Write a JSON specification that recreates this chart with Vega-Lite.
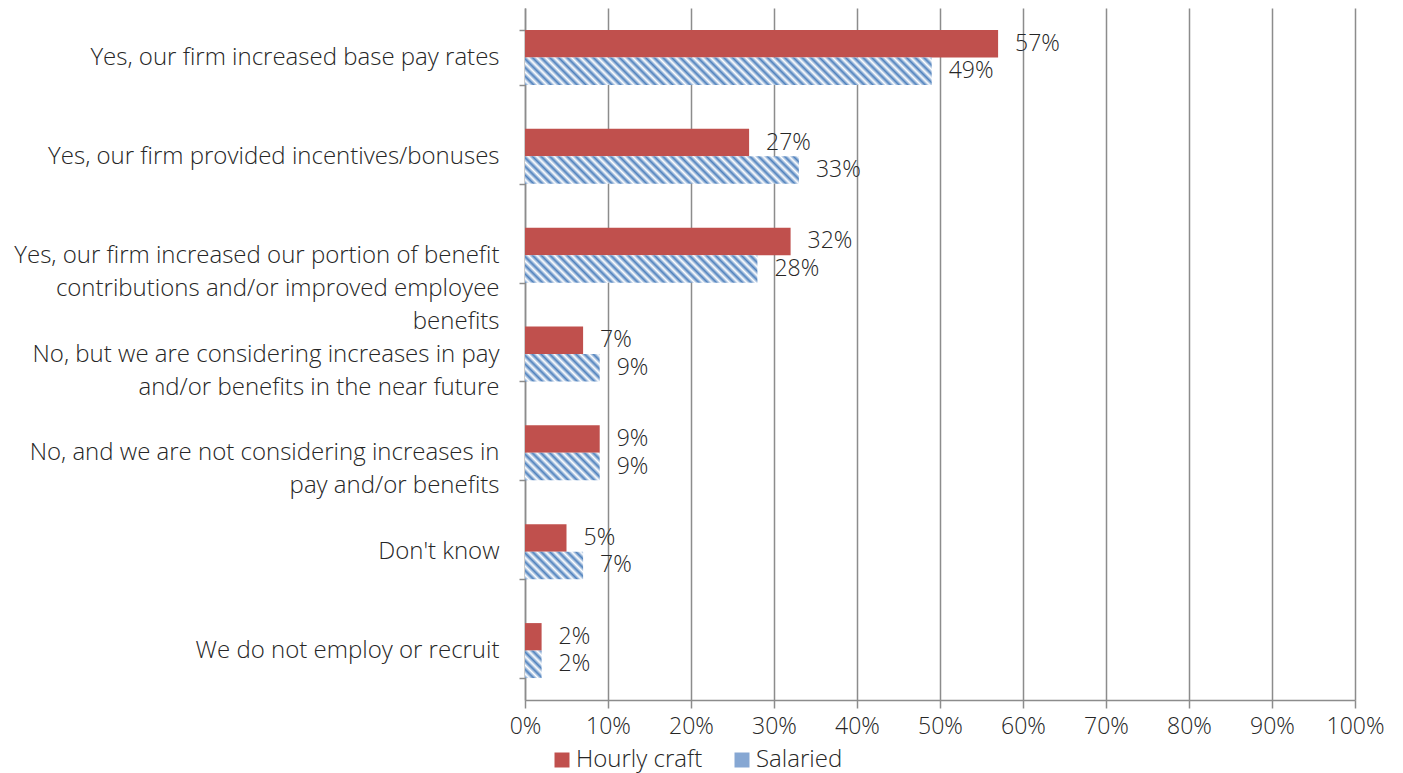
{
  "$schema": "https://vega.github.io/schema/vega-lite/v6.json",
  "width": 830,
  "height": 692,
  "autosize": {"type": "none"},
  "padding": {"left": 525, "top": 8, "right": 48, "bottom": 73},
  "background": "white",
  "config": {"view": {"stroke": null}, "font": "Open Sans"},
  "data": {"values": [
    {"q": "Yes, our firm increased base pay rates", "series": "Hourly craft", "value": 0.57},
    {"q": "Yes, our firm provided incentives/bonuses", "series": "Hourly craft", "value": 0.27},
    {"q": "Yes, our firm increased our portion of benefit|contributions and/or improved employee|benefits", "series": "Hourly craft", "value": 0.32},
    {"q": "No, but we are considering increases in pay|and/or benefits in the near future", "series": "Hourly craft", "value": 0.07},
    {"q": "No, and we are not considering increases in|pay and/or benefits", "series": "Hourly craft", "value": 0.09},
    {"q": "Don't know", "series": "Hourly craft", "value": 0.05},
    {"q": "We do not employ or recruit", "series": "Hourly craft", "value": 0.02},
    {"q": "Yes, our firm increased base pay rates", "series": "Salaried", "value": 0.49},
    {"q": "Yes, our firm provided incentives/bonuses", "series": "Salaried", "value": 0.33},
    {"q": "Yes, our firm increased our portion of benefit|contributions and/or improved employee|benefits", "series": "Salaried", "value": 0.28},
    {"q": "No, but we are considering increases in pay|and/or benefits in the near future", "series": "Salaried", "value": 0.09},
    {"q": "No, and we are not considering increases in|pay and/or benefits", "series": "Salaried", "value": 0.09},
    {"q": "Don't know", "series": "Salaried", "value": 0.07},
    {"q": "We do not employ or recruit", "series": "Salaried", "value": 0.02}
  ]},
  "encoding": {
    "y": {
      "field": "q", "type": "nominal", "sort": null,
      "scale": {"paddingInner": 0.444, "paddingOuter": 0.222},
      "axis": {
        "title": null, "tickBand": "extent", "tickSize": 6, "tickColor": "#8c8c8c", "tickWidth": 1.5,
        "domainColor": "#8c8c8c", "domainWidth": 1.5, "labelFontSize": 24, "labelFontWeight": 300, "labelColor": "#262626",
        "labelPadding": 20, "labelLineHeight": 33, "labelLimit": 600,
        "labelExpr": "split(datum.label, '|')"
      }
    },
    "yOffset": {"field": "series", "type": "nominal", "sort": ["Hourly craft", "Salaried"], "scale": {"paddingInner": 0, "paddingOuter": 0}},
    "x": {
      "field": "value", "type": "quantitative", "scale": {"domain": [0, 1]},
      "axis": {
        "title": null, "values": [0, 0.1, 0.2, 0.3, 0.4, 0.5, 0.6, 0.7, 0.8, 0.9, 1], "format": ".0%",
        "grid": true, "gridColor": "#8c8c8c", "gridWidth": 1.5, "domainColor": "#8c8c8c", "domainWidth": 1.5,
        "tickColor": "#8c8c8c", "tickWidth": 1.5, "tickSize": 8, "labelFontSize": 23, "labelFontWeight": 300, "labelColor": "#262626",
        "labelPadding": 7, "labelFlush": false
      }
    }
  },
  "layer": [
    {
      "mark": {"type": "bar"},
      "encoding": {
        "fill": {
          "field": "series", "type": "nominal",
          "scale": {"domain": ["Hourly craft", "Salaried"], "range": ["#C0504D", "#86A7D3"]},
          "legend": {
            "title": null, "orient": "none", "legendX": 25, "legendY": 740, "direction": "horizontal",
            "symbolType": "square", "symbolSize": 225, "symbolStrokeWidth": 0, "labelFontSize": 24, "labelFontWeight": 300,
            "labelColor": "#262626", "columnPadding": 27, "labelOffset": 2
          },
          "condition": [
            {"test": "datum.series === 'Salaried' && datum.value === 0.49", "value": {"gradient": "linear", "x1": 0, "y1": 1, "x2": 1.0647, "y2": 0.92806, "stops": [
              {"offset":0,"color":"#4F81BD"},{"offset":0.01,"color":"#FFFFFF"},{"offset":0.02,"color":"#4F81BD"},{"offset":0.03,"color":"#FFFFFF"},{"offset":0.04,"color":"#4F81BD"},{"offset":0.05,"color":"#FFFFFF"},{"offset":0.06,"color":"#4F81BD"},{"offset":0.07,"color":"#FFFFFF"},{"offset":0.08,"color":"#4F81BD"},{"offset":0.09,"color":"#FFFFFF"},
              {"offset":0.1,"color":"#4F81BD"},{"offset":0.11,"color":"#FFFFFF"},{"offset":0.12,"color":"#4F81BD"},{"offset":0.13,"color":"#FFFFFF"},{"offset":0.14,"color":"#4F81BD"},{"offset":0.15,"color":"#FFFFFF"},{"offset":0.16,"color":"#4F81BD"},{"offset":0.17,"color":"#FFFFFF"},{"offset":0.18,"color":"#4F81BD"},{"offset":0.19,"color":"#FFFFFF"},
              {"offset":0.2,"color":"#4F81BD"},{"offset":0.21,"color":"#FFFFFF"},{"offset":0.22,"color":"#4F81BD"},{"offset":0.23,"color":"#FFFFFF"},{"offset":0.24,"color":"#4F81BD"},{"offset":0.25,"color":"#FFFFFF"},{"offset":0.26,"color":"#4F81BD"},{"offset":0.27,"color":"#FFFFFF"},{"offset":0.28,"color":"#4F81BD"},{"offset":0.29,"color":"#FFFFFF"},
              {"offset":0.3,"color":"#4F81BD"},{"offset":0.31,"color":"#FFFFFF"},{"offset":0.32,"color":"#4F81BD"},{"offset":0.33,"color":"#FFFFFF"},{"offset":0.34,"color":"#4F81BD"},{"offset":0.35,"color":"#FFFFFF"},{"offset":0.36,"color":"#4F81BD"},{"offset":0.37,"color":"#FFFFFF"},{"offset":0.38,"color":"#4F81BD"},{"offset":0.39,"color":"#FFFFFF"},
              {"offset":0.4,"color":"#4F81BD"},{"offset":0.41,"color":"#FFFFFF"},{"offset":0.42,"color":"#4F81BD"},{"offset":0.43,"color":"#FFFFFF"},{"offset":0.44,"color":"#4F81BD"},{"offset":0.45,"color":"#FFFFFF"},{"offset":0.46,"color":"#4F81BD"},{"offset":0.47,"color":"#FFFFFF"},{"offset":0.48,"color":"#4F81BD"},{"offset":0.49,"color":"#FFFFFF"},
              {"offset":0.5,"color":"#4F81BD"},{"offset":0.51,"color":"#FFFFFF"},{"offset":0.52,"color":"#4F81BD"},{"offset":0.53,"color":"#FFFFFF"},{"offset":0.54,"color":"#4F81BD"},{"offset":0.55,"color":"#FFFFFF"},{"offset":0.56,"color":"#4F81BD"},{"offset":0.57,"color":"#FFFFFF"},{"offset":0.58,"color":"#4F81BD"},{"offset":0.59,"color":"#FFFFFF"},
              {"offset":0.6,"color":"#4F81BD"},{"offset":0.61,"color":"#FFFFFF"},{"offset":0.62,"color":"#4F81BD"},{"offset":0.63,"color":"#FFFFFF"},{"offset":0.64,"color":"#4F81BD"},{"offset":0.65,"color":"#FFFFFF"},{"offset":0.66,"color":"#4F81BD"},{"offset":0.67,"color":"#FFFFFF"},{"offset":0.68,"color":"#4F81BD"},{"offset":0.69,"color":"#FFFFFF"},
              {"offset":0.7,"color":"#4F81BD"},{"offset":0.71,"color":"#FFFFFF"},{"offset":0.72,"color":"#4F81BD"},{"offset":0.73,"color":"#FFFFFF"},{"offset":0.74,"color":"#4F81BD"},{"offset":0.75,"color":"#FFFFFF"},{"offset":0.76,"color":"#4F81BD"},{"offset":0.77,"color":"#FFFFFF"},{"offset":0.78,"color":"#4F81BD"},{"offset":0.79,"color":"#FFFFFF"},
              {"offset":0.8,"color":"#4F81BD"},{"offset":0.81,"color":"#FFFFFF"},{"offset":0.82,"color":"#4F81BD"},{"offset":0.83,"color":"#FFFFFF"},{"offset":0.84,"color":"#4F81BD"},{"offset":0.85,"color":"#FFFFFF"},{"offset":0.86,"color":"#4F81BD"},{"offset":0.87,"color":"#FFFFFF"},{"offset":0.88,"color":"#4F81BD"},{"offset":0.89,"color":"#FFFFFF"},
              {"offset":0.9,"color":"#4F81BD"},{"offset":0.91,"color":"#FFFFFF"},{"offset":0.92,"color":"#4F81BD"},{"offset":0.93,"color":"#FFFFFF"},{"offset":0.94,"color":"#4F81BD"},{"offset":0.95,"color":"#FFFFFF"},{"offset":0.96,"color":"#4F81BD"},{"offset":0.97,"color":"#FFFFFF"},{"offset":0.98,"color":"#4F81BD"},{"offset":0.99,"color":"#FFFFFF"},
              {"offset":1,"color":"#4F81BD"}
            ]}},
            {"test": "datum.series === 'Salaried' && datum.value === 0.33", "value": {"gradient": "linear", "x1": 0, "y1": 1, "x2": 1.5724, "y2": 0.84225, "stops": [
              {"offset":0,"color":"#4F81BD"},{"offset":0.01,"color":"#FFFFFF"},{"offset":0.02,"color":"#4F81BD"},{"offset":0.03,"color":"#FFFFFF"},{"offset":0.04,"color":"#4F81BD"},{"offset":0.05,"color":"#FFFFFF"},{"offset":0.06,"color":"#4F81BD"},{"offset":0.07,"color":"#FFFFFF"},{"offset":0.08,"color":"#4F81BD"},{"offset":0.09,"color":"#FFFFFF"},
              {"offset":0.1,"color":"#4F81BD"},{"offset":0.11,"color":"#FFFFFF"},{"offset":0.12,"color":"#4F81BD"},{"offset":0.13,"color":"#FFFFFF"},{"offset":0.14,"color":"#4F81BD"},{"offset":0.15,"color":"#FFFFFF"},{"offset":0.16,"color":"#4F81BD"},{"offset":0.17,"color":"#FFFFFF"},{"offset":0.18,"color":"#4F81BD"},{"offset":0.19,"color":"#FFFFFF"},
              {"offset":0.2,"color":"#4F81BD"},{"offset":0.21,"color":"#FFFFFF"},{"offset":0.22,"color":"#4F81BD"},{"offset":0.23,"color":"#FFFFFF"},{"offset":0.24,"color":"#4F81BD"},{"offset":0.25,"color":"#FFFFFF"},{"offset":0.26,"color":"#4F81BD"},{"offset":0.27,"color":"#FFFFFF"},{"offset":0.28,"color":"#4F81BD"},{"offset":0.29,"color":"#FFFFFF"},
              {"offset":0.3,"color":"#4F81BD"},{"offset":0.31,"color":"#FFFFFF"},{"offset":0.32,"color":"#4F81BD"},{"offset":0.33,"color":"#FFFFFF"},{"offset":0.34,"color":"#4F81BD"},{"offset":0.35,"color":"#FFFFFF"},{"offset":0.36,"color":"#4F81BD"},{"offset":0.37,"color":"#FFFFFF"},{"offset":0.38,"color":"#4F81BD"},{"offset":0.39,"color":"#FFFFFF"},
              {"offset":0.4,"color":"#4F81BD"},{"offset":0.41,"color":"#FFFFFF"},{"offset":0.42,"color":"#4F81BD"},{"offset":0.43,"color":"#FFFFFF"},{"offset":0.44,"color":"#4F81BD"},{"offset":0.45,"color":"#FFFFFF"},{"offset":0.46,"color":"#4F81BD"},{"offset":0.47,"color":"#FFFFFF"},{"offset":0.48,"color":"#4F81BD"},{"offset":0.49,"color":"#FFFFFF"},
              {"offset":0.5,"color":"#4F81BD"},{"offset":0.51,"color":"#FFFFFF"},{"offset":0.52,"color":"#4F81BD"},{"offset":0.53,"color":"#FFFFFF"},{"offset":0.54,"color":"#4F81BD"},{"offset":0.55,"color":"#FFFFFF"},{"offset":0.56,"color":"#4F81BD"},{"offset":0.57,"color":"#FFFFFF"},{"offset":0.58,"color":"#4F81BD"},{"offset":0.59,"color":"#FFFFFF"},
              {"offset":0.6,"color":"#4F81BD"},{"offset":0.61,"color":"#FFFFFF"},{"offset":0.62,"color":"#4F81BD"},{"offset":0.63,"color":"#FFFFFF"},{"offset":0.64,"color":"#4F81BD"},{"offset":0.65,"color":"#FFFFFF"},{"offset":0.66,"color":"#4F81BD"},{"offset":0.67,"color":"#FFFFFF"},{"offset":0.68,"color":"#4F81BD"},{"offset":0.69,"color":"#FFFFFF"},
              {"offset":0.7,"color":"#4F81BD"}
            ]}},
            {"test": "datum.series === 'Salaried' && datum.value === 0.28", "value": {"gradient": "linear", "x1": 0, "y1": 1, "x2": 1.846, "y2": 0.78173, "stops": [
              {"offset":0,"color":"#4F81BD"},{"offset":0.01,"color":"#FFFFFF"},{"offset":0.02,"color":"#4F81BD"},{"offset":0.03,"color":"#FFFFFF"},{"offset":0.04,"color":"#4F81BD"},{"offset":0.05,"color":"#FFFFFF"},{"offset":0.06,"color":"#4F81BD"},{"offset":0.07,"color":"#FFFFFF"},{"offset":0.08,"color":"#4F81BD"},{"offset":0.09,"color":"#FFFFFF"},
              {"offset":0.1,"color":"#4F81BD"},{"offset":0.11,"color":"#FFFFFF"},{"offset":0.12,"color":"#4F81BD"},{"offset":0.13,"color":"#FFFFFF"},{"offset":0.14,"color":"#4F81BD"},{"offset":0.15,"color":"#FFFFFF"},{"offset":0.16,"color":"#4F81BD"},{"offset":0.17,"color":"#FFFFFF"},{"offset":0.18,"color":"#4F81BD"},{"offset":0.19,"color":"#FFFFFF"},
              {"offset":0.2,"color":"#4F81BD"},{"offset":0.21,"color":"#FFFFFF"},{"offset":0.22,"color":"#4F81BD"},{"offset":0.23,"color":"#FFFFFF"},{"offset":0.24,"color":"#4F81BD"},{"offset":0.25,"color":"#FFFFFF"},{"offset":0.26,"color":"#4F81BD"},{"offset":0.27,"color":"#FFFFFF"},{"offset":0.28,"color":"#4F81BD"},{"offset":0.29,"color":"#FFFFFF"},
              {"offset":0.3,"color":"#4F81BD"},{"offset":0.31,"color":"#FFFFFF"},{"offset":0.32,"color":"#4F81BD"},{"offset":0.33,"color":"#FFFFFF"},{"offset":0.34,"color":"#4F81BD"},{"offset":0.35,"color":"#FFFFFF"},{"offset":0.36,"color":"#4F81BD"},{"offset":0.37,"color":"#FFFFFF"},{"offset":0.38,"color":"#4F81BD"},{"offset":0.39,"color":"#FFFFFF"},
              {"offset":0.4,"color":"#4F81BD"},{"offset":0.41,"color":"#FFFFFF"},{"offset":0.42,"color":"#4F81BD"},{"offset":0.43,"color":"#FFFFFF"},{"offset":0.44,"color":"#4F81BD"},{"offset":0.45,"color":"#FFFFFF"},{"offset":0.46,"color":"#4F81BD"},{"offset":0.47,"color":"#FFFFFF"},{"offset":0.48,"color":"#4F81BD"},{"offset":0.49,"color":"#FFFFFF"},
              {"offset":0.5,"color":"#4F81BD"},{"offset":0.51,"color":"#FFFFFF"},{"offset":0.52,"color":"#4F81BD"},{"offset":0.53,"color":"#FFFFFF"},{"offset":0.54,"color":"#4F81BD"},{"offset":0.55,"color":"#FFFFFF"},{"offset":0.56,"color":"#4F81BD"},{"offset":0.57,"color":"#FFFFFF"},{"offset":0.58,"color":"#4F81BD"},{"offset":0.59,"color":"#FFFFFF"},
              {"offset":0.6,"color":"#4F81BD"}
            ]}},
            {"test": "datum.series === 'Salaried' && datum.value === 0.09", "value": {"gradient": "linear", "x1": 0, "y1": 1, "x2": 5.1291, "y2": -0.8869, "stops": [
              {"offset":0,"color":"#4F81BD"},{"offset":0.01,"color":"#FFFFFF"},{"offset":0.02,"color":"#4F81BD"},{"offset":0.03,"color":"#FFFFFF"},{"offset":0.04,"color":"#4F81BD"},{"offset":0.05,"color":"#FFFFFF"},{"offset":0.06,"color":"#4F81BD"},{"offset":0.07,"color":"#FFFFFF"},{"offset":0.08,"color":"#4F81BD"},{"offset":0.09,"color":"#FFFFFF"},
              {"offset":0.1,"color":"#4F81BD"},{"offset":0.11,"color":"#FFFFFF"},{"offset":0.12,"color":"#4F81BD"},{"offset":0.13,"color":"#FFFFFF"},{"offset":0.14,"color":"#4F81BD"},{"offset":0.15,"color":"#FFFFFF"},{"offset":0.16,"color":"#4F81BD"},{"offset":0.17,"color":"#FFFFFF"},{"offset":0.18,"color":"#4F81BD"},{"offset":0.19,"color":"#FFFFFF"},
              {"offset":0.2,"color":"#4F81BD"},{"offset":0.21,"color":"#FFFFFF"},{"offset":0.22,"color":"#4F81BD"},{"offset":0.23,"color":"#FFFFFF"},{"offset":0.24,"color":"#4F81BD"}
            ]}},
            {"test": "datum.series === 'Salaried' && datum.value === 0.07", "value": {"gradient": "linear", "x1": 0, "y1": 1, "x2": 6.1183, "y2": -1.8938, "stops": [
              {"offset":0,"color":"#4F81BD"},{"offset":0.01,"color":"#FFFFFF"},{"offset":0.02,"color":"#4F81BD"},{"offset":0.03,"color":"#FFFFFF"},{"offset":0.04,"color":"#4F81BD"},{"offset":0.05,"color":"#FFFFFF"},{"offset":0.06,"color":"#4F81BD"},{"offset":0.07,"color":"#FFFFFF"},{"offset":0.08,"color":"#4F81BD"},{"offset":0.09,"color":"#FFFFFF"},
              {"offset":0.1,"color":"#4F81BD"},{"offset":0.11,"color":"#FFFFFF"},{"offset":0.12,"color":"#4F81BD"},{"offset":0.13,"color":"#FFFFFF"},{"offset":0.14,"color":"#4F81BD"},{"offset":0.15,"color":"#FFFFFF"},{"offset":0.16,"color":"#4F81BD"},{"offset":0.17,"color":"#FFFFFF"},{"offset":0.18,"color":"#4F81BD"},{"offset":0.19,"color":"#FFFFFF"},
              {"offset":0.2,"color":"#4F81BD"}
            ]}},
            {"test": "datum.series === 'Salaried' && datum.value === 0.02", "value": {"gradient": "linear", "x1": 0, "y1": 1, "x2": 7.0052, "y2": -10.597, "stops": [
              {"offset":0,"color":"#4F81BD"},{"offset":0.01,"color":"#FFFFFF"},{"offset":0.02,"color":"#4F81BD"},{"offset":0.03,"color":"#FFFFFF"},{"offset":0.04,"color":"#4F81BD"},{"offset":0.05,"color":"#FFFFFF"},{"offset":0.06,"color":"#4F81BD"},{"offset":0.07,"color":"#FFFFFF"},{"offset":0.08,"color":"#4F81BD"},{"offset":0.09,"color":"#FFFFFF"},
              {"offset":0.1,"color":"#4F81BD"},{"offset":0.11,"color":"#FFFFFF"}
            ]}}
          ]
        }
      }
    },
    {
      "mark": {"type": "text", "align": "left", "baseline": "middle", "dx": 17, "fontSize": 23, "fontWeight": 300, "color": "#262626"},
      "encoding": {"text": {"field": "value", "type": "quantitative", "format": ".0%"}}
    }
  ]
}
